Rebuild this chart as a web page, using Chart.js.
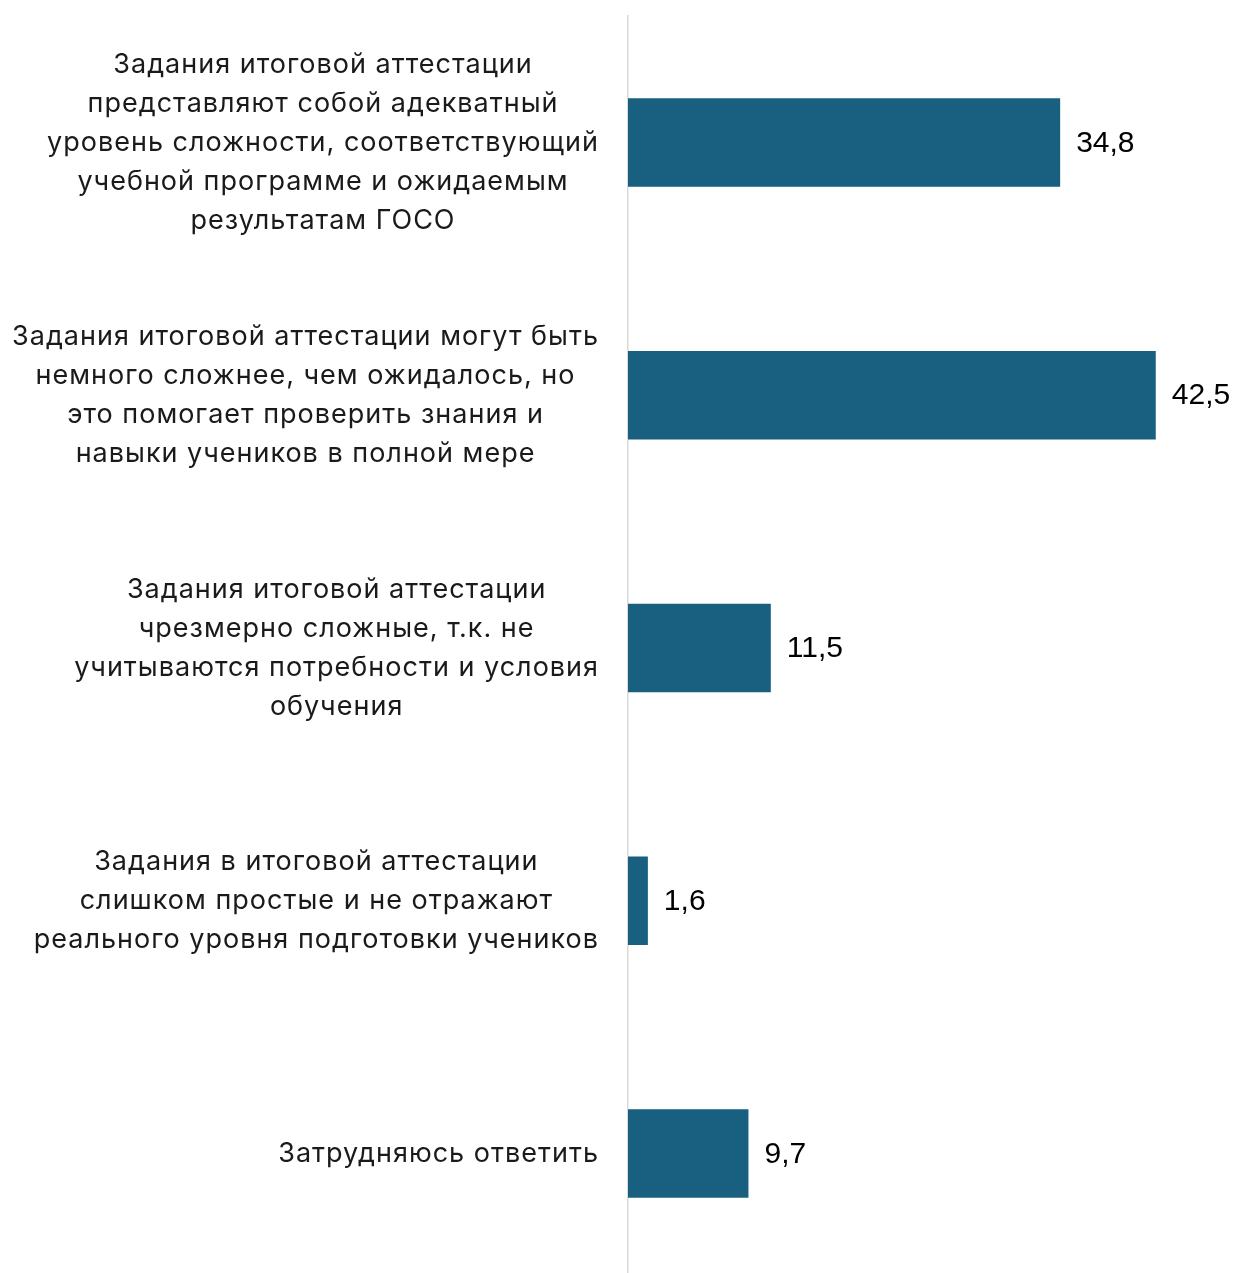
<!DOCTYPE html>
<html>
<head>
<meta charset="utf-8">
<script src="https://cdn.jsdelivr.net/npm/chart.js@4/dist/chart.umd.min.js"></script>
<style>
  html, body { margin: 0; padding: 0; background: #fff; overflow: hidden; }
  #wrap { position: relative; width: 1234px; height: 1280px; }
</style>
</head>
<body>
<div id="wrap"><canvas id="chart"></canvas></div>
<script>
// category labels, already split into lines as in the original
const categories = [
  ['Задания итоговой аттестации', 'представляют собой адекватный', 'уровень сложности, соответствующий', 'учебной программе и ожидаемым', 'результатам ГОСО'],
  ['Задания итоговой аттестации могут быть', 'немного сложнее, чем ожидалось, но', 'это помогает проверить знания и', 'навыки учеников в полной мере'],
  ['Задания итоговой аттестации', 'чрезмерно сложные, т.к. не', 'учитываются потребности и условия', 'обучения'],
  ['Задания в итоговой аттестации', 'слишком простые и не отражают', 'реального уровня подготовки учеников'],
  ['Затрудняюсь ответить']
];
const values = [34.8, 42.5, 11.5, 1.6, 9.7];

const barColor = '#185f80';
const labelFont = '27px Inter, "Noto Sans", sans-serif';
const valueFont = '30px "Liberation Sans", Arial, sans-serif';
const spacing = 1;

// draws the wrapped category labels (each block centred on its widest line)
// and the value labels at the end of each bar
const labelsPlugin = {
  id: 'labelsPlugin',
  afterDraw(chart) {
    const ctx = chart.ctx;
    const yScale = chart.scales.y;
    const meta = chart.getDatasetMeta(0);
    const right = chart.chartArea.left - 30;
    const lineH = 39;

    ctx.save();
    ctx.fillStyle = '#1a1a1a';
    ctx.font = labelFont;
    ctx.letterSpacing = spacing + 'px';
    ctx.textAlign = 'left';
    ctx.textBaseline = 'middle';
    categories.forEach((lines, i) => {
      const cy = yScale.getPixelForValue(i);
      const widths = lines.map(l => ctx.measureText(l).width - spacing);
      const widest = Math.max(...widths);
      const cx = right - widest / 2;
      const top = cy - (lines.length - 1) * lineH / 2;
      lines.forEach((l, j) => ctx.fillText(l, cx - widths[j] / 2, top + j * lineH));
    });

    ctx.letterSpacing = '0px';
    ctx.font = valueFont;
    ctx.fillStyle = '#000';
    ctx.textAlign = 'left';
    meta.data.forEach((bar, i) => {
      ctx.fillText(values[i].toFixed(1).replace('.', ','), bar.x + 16, bar.y + 1);
    });
    ctx.restore();
  }
};

new Chart(document.getElementById('chart'), {
  type: 'bar',
  data: {
    labels: categories,
    datasets: [{
      data: values,
      backgroundColor: barColor,
      borderWidth: 0,
      barPercentage: 0.7,
      categoryPercentage: 0.5
    }]
  },
  options: {
    indexAxis: 'y',
    responsive: true,
    maintainAspectRatio: false,
    animation: false,
    layout: { padding: { left: 628, top: 16, right: 0, bottom: 0 } },
    plugins: { legend: { display: false }, tooltip: { enabled: false } },
    scales: {
      x: { display: false, min: 0, max: 48.8 },
      y: {
        ticks: { display: false },
        grid: { display: false, drawTicks: false },
        border: { display: true, color: '#d9d9d9', width: 1.5 }
      }
    }
  },
  plugins: [labelsPlugin]
});
</script>
</body>
</html>
